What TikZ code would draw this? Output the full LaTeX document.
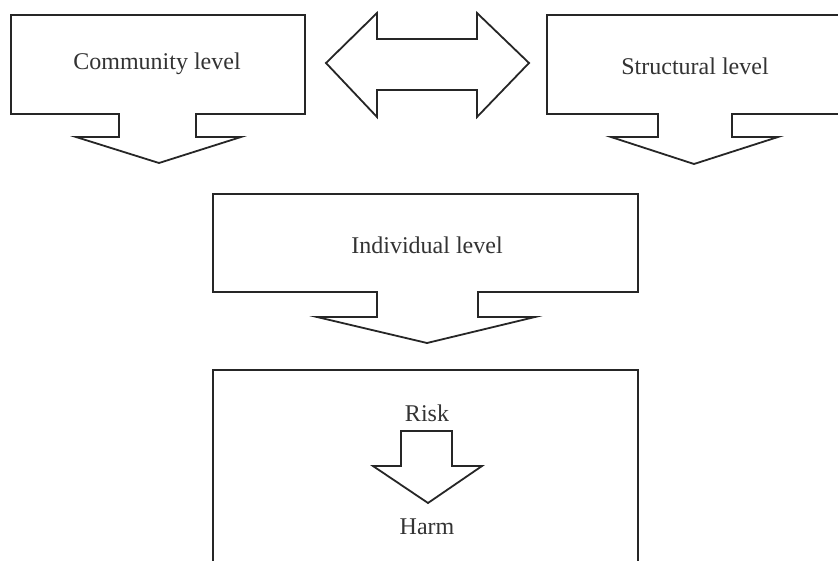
\documentclass[tikz,border=0pt]{standalone}
\usepackage{fontspec}
\setmainfont{Liberation Serif}
\begin{document}
\begin{tikzpicture}[x=1pt,y=-1pt,
  shapeline/.style={draw=black!85,line width=1.8pt,line join=miter,fill=white},
  lbl/.style={font=\fontsize{24}{28}\selectfont,text=black!80,inner sep=0pt}]
\useasboundingbox (0,0) rectangle (838,560);
\clip (0,0) rectangle (838,560);
% Community level callout
\draw[shapeline] (11,15) -- (305,15) -- (305,114) -- (196,114) -- (196,137) -- (241,137)
  -- (159,163) -- (76,137) -- (119,137) -- (119,114) -- (11,114) -- cycle;
\node[lbl] (community) at (157,64) {Community level};
% Double arrow
\draw[shapeline] (326,63) -- (377,13) -- (377,39) -- (477,39) -- (477,13) -- (529,63)
  -- (477,117) -- (477,90) -- (377,90) -- (377,117) -- cycle;
% Structural level callout
\draw[shapeline] (547,15) -- (845,15) -- (845,114) -- (732,114) -- (732,137) -- (778,137)
  -- (694,164) -- (611,137) -- (658,137) -- (658,114) -- (547,114) -- cycle;
\node[lbl] (structural) at (695,66) {Structural level};
% Individual level callout
\draw[shapeline] (213,194) -- (638,194) -- (638,292) -- (478,292) -- (478,317) -- (535,317)
  -- (427,343) -- (317,317) -- (377,317) -- (377,292) -- (213,292) -- cycle;
\node[lbl] (individual) at (427,245) {Individual level};
% Bottom box
\draw[shapeline] (213,370) rectangle (638,575);
\node[lbl] (risk) at (427,413) {Risk};
\draw[shapeline] (401,431) -- (452,431) -- (452,466) -- (482,466) -- (428,503) -- (373,466)
  -- (401,466) -- cycle;
\node[lbl] (harm) at (427,527) {Harm};
\end{tikzpicture}
\end{document}
